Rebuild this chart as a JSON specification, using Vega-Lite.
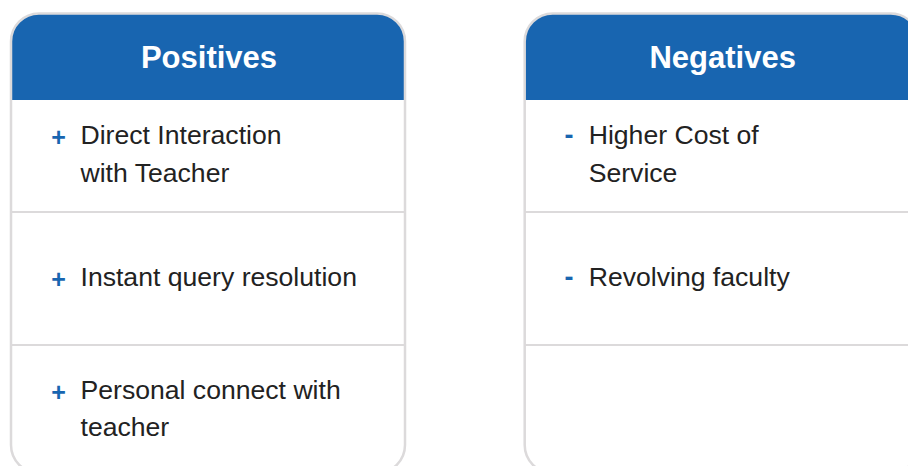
{
  "$schema": "https://vega.github.io/schema/vega-lite/v6.json",
  "width": 908,
  "height": 466,
  "autosize": {"type": "none"},
  "padding": 0,
  "background": "#ffffff",
  "config": {"view": {"stroke": null}},
  "datasets": {
    "panels": [
      {"side": "Positives"},
      {"side": "Negatives"}
    ],
    "items": [
      {"side": "Positives", "row": 1, "sign": "+", "text": ["Direct Interaction", "with Teacher"]},
      {"side": "Positives", "row": 2, "sign": "+", "text": ["Instant query resolution"]},
      {"side": "Positives", "row": 3, "sign": "+", "text": ["Personal connect with", "teacher"]},
      {"side": "Negatives", "row": 1, "sign": "-", "text": ["Higher Cost of", "Service"]},
      {"side": "Negatives", "row": 2, "sign": "-", "text": ["Revolving faculty"]},
      {"side": "Negatives", "row": 3, "sign": "", "text": [""]}
    ]
  },
  "resolve": {"scale": {"y": "independent"}},
  "layer": [
    {
      "data": {"name": "panels"},
      "mark": {"type": "rect", "fill": "#ffffff", "cornerRadius": 28},
      "encoding": {
        "x": {"field": "side", "type": "nominal", "axis": null, "scale": {"domain": ["Positives", "Negatives"], "range": [11, 918.7], "paddingInner": 0.233, "paddingOuter": 0}},
        "y": {"datum": 0, "type": "quantitative", "axis": null, "scale": {"domain": [0, 1, 2, 3, 4], "range": [13.5, 100, 212, 345, 473], "zero": false, "nice": false}},
        "y2": {"datum": 4}
      }
    },
    {
      "data": {"name": "panels"},
      "mark": {"type": "rect", "fill": "#1865b0", "cornerRadiusTopLeft": 28, "cornerRadiusTopRight": 28},
      "encoding": {
        "x": {"field": "side", "type": "nominal", "axis": null},
        "y": {"datum": 0, "type": "quantitative", "axis": null, "scale": {"domain": [0, 1, 2, 3, 4], "range": [13.5, 100, 212, 345, 473], "zero": false, "nice": false}},
        "y2": {"datum": 1}
      }
    },
    {
      "data": {"name": "items"},
      "transform": [{"filter": "datum.row >= 2"}],
      "mark": {"type": "rect", "fill": "#dcdadb", "stroke": "#dcdadb", "strokeWidth": 2.2},
      "encoding": {
        "x": {"field": "side", "type": "nominal", "axis": null},
        "y": {"field": "row", "type": "quantitative", "axis": null, "scale": {"domain": [0, 1, 2, 3, 4], "range": [13.5, 100, 212, 345, 473], "zero": false, "nice": false}},
        "y2": {"field": "row"}
      }
    },
    {
      "data": {"name": "panels"},
      "mark": {"type": "rect", "filled": false, "fill": null, "stroke": "#dcdadb", "strokeWidth": 2.5, "cornerRadius": 28},
      "encoding": {
        "x": {"field": "side", "type": "nominal", "axis": null},
        "y": {"datum": 0, "type": "quantitative", "axis": null, "scale": {"domain": [0, 1, 2, 3, 4], "range": [13.5, 100, 212, 345, 473], "zero": false, "nice": false}},
        "y2": {"datum": 4}
      }
    },
    {
      "data": {"name": "panels"},
      "mark": {"type": "text", "font": "Liberation Sans", "fontWeight": "bold", "fontSize": 31, "color": "#ffffff", "align": "center", "baseline": "alphabetic", "dx": 1},
      "encoding": {
        "x": {"field": "side", "type": "nominal", "axis": null},
        "y": {"datum": 0, "type": "quantitative", "axis": null, "scale": {"domain": [0, 1, 2, 3], "range": [68, 144, 285.5, 398.5], "zero": false, "nice": false}},
        "text": {"field": "side", "type": "nominal"}
      }
    },
    {
      "data": {"name": "items"},
      "transform": [{"filter": "datum.side == 'Positives'"}],
      "mark": {"type": "text", "font": "Liberation Sans", "fontWeight": "bold", "fontSize": 25, "color": "#1865b0", "align": "center", "baseline": "alphabetic", "dx": 47.5, "dy": 2},
      "encoding": {
        "x": {"field": "side", "type": "nominal", "axis": null, "bandPosition": 0},
        "y": {"field": "row", "type": "quantitative", "axis": null, "scale": {"domain": [0, 1, 2, 3], "range": [68, 144, 285.5, 398.5], "zero": false, "nice": false}},
        "text": {"field": "sign", "type": "nominal"}
      }
    },
    {
      "data": {"name": "items"},
      "transform": [{"filter": "datum.side == 'Negatives'"}],
      "mark": {"type": "text", "font": "Liberation Sans", "fontWeight": "bold", "fontSize": 27, "color": "#1865b0", "align": "center", "baseline": "alphabetic", "dx": 44.3, "dy": 0},
      "encoding": {
        "x": {"field": "side", "type": "nominal", "axis": null, "bandPosition": 0},
        "y": {"field": "row", "type": "quantitative", "axis": null, "scale": {"domain": [0, 1, 2, 3], "range": [68, 144, 285.5, 398.5], "zero": false, "nice": false}},
        "text": {"field": "sign", "type": "nominal"}
      }
    },
    {
      "data": {"name": "items"},
      "transform": [{"filter": "datum.side == 'Positives'"}],
      "mark": {"type": "text", "font": "Liberation Sans", "fontSize": 26.6, "color": "#222222", "align": "left", "baseline": "alphabetic", "lineHeight": 37.5, "dx": 69.5},
      "encoding": {
        "x": {"field": "side", "type": "nominal", "axis": null, "bandPosition": 0},
        "y": {"field": "row", "type": "quantitative", "axis": null, "scale": {"domain": [0, 1, 2, 3], "range": [68, 144, 285.5, 398.5], "zero": false, "nice": false}},
        "text": {"field": "text", "type": "nominal"}
      }
    },
    {
      "data": {"name": "items"},
      "transform": [{"filter": "datum.side == 'Negatives'"}],
      "mark": {"type": "text", "font": "Liberation Sans", "fontSize": 26.6, "color": "#222222", "align": "left", "baseline": "alphabetic", "lineHeight": 37.5, "dx": 64},
      "encoding": {
        "x": {"field": "side", "type": "nominal", "axis": null, "bandPosition": 0},
        "y": {"field": "row", "type": "quantitative", "axis": null, "scale": {"domain": [0, 1, 2, 3], "range": [68, 144, 285.5, 398.5], "zero": false, "nice": false}},
        "text": {"field": "text", "type": "nominal"}
      }
    }
  ]
}
